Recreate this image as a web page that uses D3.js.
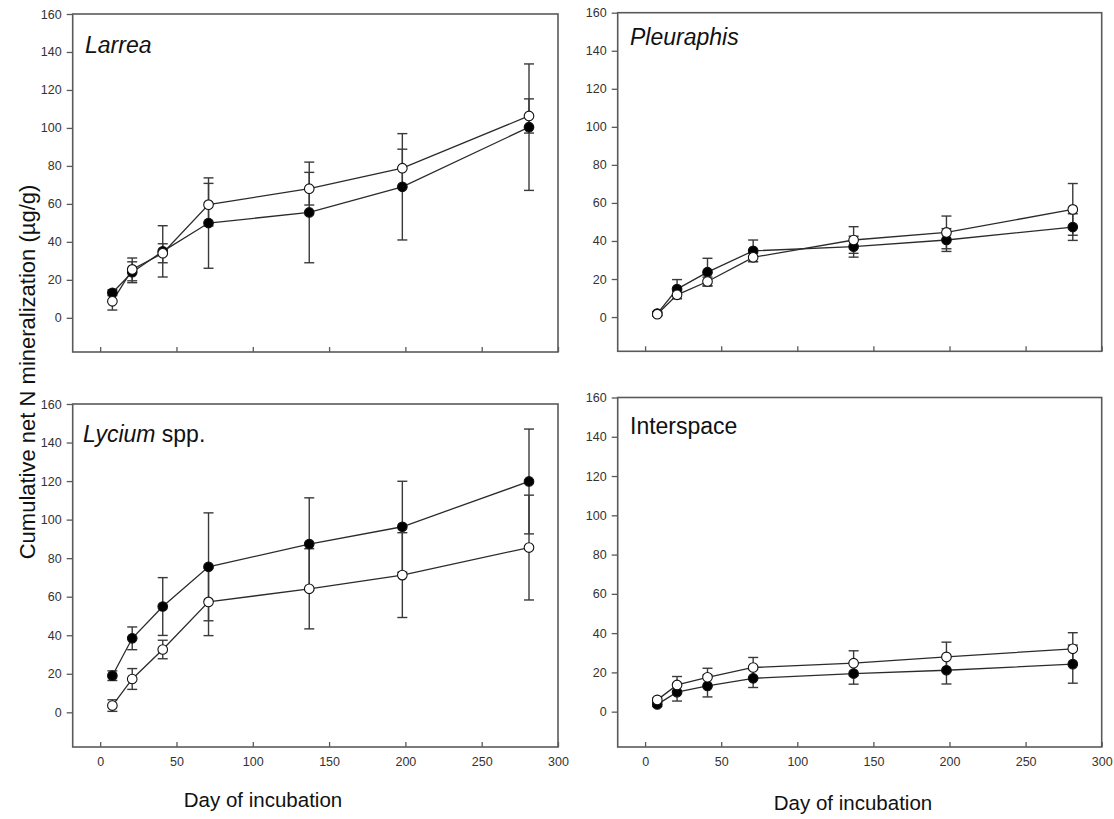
<!DOCTYPE html>
<html>
<head>
<meta charset="utf-8">
<script src="https://cdn.jsdelivr.net/npm/d3@7"></script>
<style>
  body { margin: 0; background: #fff; }
  svg { display: block; font-family: "Liberation Sans", Arial, sans-serif; }
</style>
</head>
<body>
<svg id="chart" width="1114" height="819"></svg>
<script>
// sampling days (x values, shared by all panels)
let days = [8, 21, 41, 71, 137, 198, 281];
let panelNames = ["Larrea", "Pleuraphis", "Lycium", "Interspace"];
let yTicks = [0, 20, 40, 60, 80, 100, 120, 140, 160];
let xTicks = [0, 50, 100, 150, 200, 250, 300];

// filled circles / open circles, mean and error
let larreaFilled = [13.2, 24, 35, 49.9, 55.5, 69, 100.4];
let larreaFilledErr = [1.5, 5.5, 13.5, 23.8, 26.5, 28, 33.3];
let larreaOpen = [8.7, 25.5, 34, 59.6, 68, 78.8, 106.3];
let larreaOpenErr = [4.6, 6, 5, 11.2, 8.6, 10, 9];

let pleuraphisFilled = [1.8, 14.7, 23.6, 34.8, 37, 40.5, 47.3];
let pleuraphisFilledErr = [1, 5, 7.3, 5.7, 5.5, 6, 7];
let pleuraphisOpen = [1.5, 11.7, 18.7, 31.4, 40.5, 44.5, 56.6];
let pleuraphisOpenErr = [1, 2, 2.3, 2.2, 7, 8.6, 13.6];

let lyciumFilled = [19, 38.4, 54.9, 75.5, 87.3, 96.3, 119.8];
let lyciumFilledErr = [2.5, 5.9, 15, 28, 24, 23.6, 27.2];
let lyciumOpen = [3.5, 17.3, 32.6, 57.3, 64.1, 71.2, 85.5];
let lyciumOpenErr = [3, 5.4, 4.8, 17.5, 20.8, 22, 27.2];

let interFilled = [3.7, 9.9, 13.1, 17, 19.4, 21.1, 24.2];
let interFilledErr = [1, 4.5, 5.6, 4.7, 5.4, 7, 9.7];
let interOpen = [6, 13.6, 17.5, 22.5, 24.7, 27.9, 32];
let interOpenErr = [1, 4.3, 4.6, 5.1, 6.3, 7.5, 8.2];

let seriesByPanel = {
    Larrea: [[larreaFilled, larreaFilledErr], [larreaOpen, larreaOpenErr]],
    Pleuraphis: [[pleuraphisFilled, pleuraphisFilledErr], [pleuraphisOpen, pleuraphisOpenErr]],
    Lycium: [[lyciumFilled, lyciumFilledErr], [lyciumOpen, lyciumOpenErr]],
    Interspace: [[interFilled, interFilledErr], [interOpen, interOpenErr]]
};

// frame boxes of the four panels
let boxes = {
    Larrea: {x0: 72.7, x1: 558, y0: 14, y1: 352, labels: false},
    Pleuraphis: {x0: 617.7, x1: 1101.7, y0: 12.7, y1: 351.3, labels: false},
    Lycium: {x0: 72.7, x1: 558, y0: 404, y1: 747, labels: true},
    Interspace: {x0: 617.7, x1: 1101.7, y0: 397.5, y1: 747, labels: true}
};

let ink = "#2b2b2b";
let frameCol = "#5a5a5a";
let svg = d3.select("#chart");

panelNames.forEach(function (name) {
    let b = boxes[name];
    let x = d3.scaleLinear().domain([-18, 300]).range([b.x0, b.x1]);
    let y = d3.scaleLinear().domain([-18, 160]).range([b.y1, b.y0]);
    let g = svg.append("g");

    // y axis, ticks pointing out
    let yAxis = g.append("g")
        .attr("transform", "translate(" + b.x0 + ",0)")
        .call(d3.axisLeft(y).tickValues(yTicks).tickSize(6).tickPadding(5).tickSizeOuter(0));
    yAxis.select(".domain").remove();
    yAxis.selectAll("line").attr("stroke", frameCol).attr("stroke-width", 1.3);
    yAxis.selectAll("text").attr("fill", "#333").style("font-size", "12.5px");

    // x axis, ticks pointing in
    let xAxis = g.append("g")
        .attr("transform", "translate(0," + b.y1 + ")")
        .call(d3.axisBottom(x).tickValues(xTicks).tickSize(-5).tickPadding(10).tickSizeOuter(0));
    xAxis.select(".domain").remove();
    xAxis.selectAll("line").attr("stroke", frameCol).attr("stroke-width", 1.3);
    if (b.labels) {
        xAxis.selectAll("text").attr("fill", "#333").style("font-size", "12.5px");
    } else {
        xAxis.selectAll("text").remove();
    }

    // frame
    g.append("rect")
        .attr("x", b.x0).attr("y", b.y0)
        .attr("width", b.x1 - b.x0).attr("height", b.y1 - b.y0)
        .attr("fill", "none").attr("stroke", frameCol).attr("stroke-width", 1.6);

    let series = seriesByPanel[name];
    let line = d3.line().x((d, i) => x(days[i])).y(d => y(d));

    // error bars behind everything
    series.forEach(function (s) {
        let means = s[0], errs = s[1];
        let eb = g.append("g").attr("stroke", "#3a3a3a").attr("stroke-width", 1.4);
        means.forEach(function (m, i) {
            let cx = x(days[i]);
            eb.append("line").attr("x1", cx).attr("x2", cx)
                .attr("y1", y(m - errs[i])).attr("y2", y(m + errs[i]));
            [m - errs[i], m + errs[i]].forEach(v => {
                eb.append("line").attr("x1", cx - 5).attr("x2", cx + 5)
                    .attr("y1", y(v)).attr("y2", y(v));
            });
        });
    });

    // connecting lines
    series.forEach(function (s) {
        g.append("path").datum(s[0])
            .attr("d", line)
            .attr("fill", "none").attr("stroke", ink).attr("stroke-width", 1.3);
    });

    // markers: first series filled, second open
    series.forEach(function (s, k) {
        g.append("g").selectAll("circle")
            .data(s[0]).enter().append("circle")
            .attr("cx", (d, i) => x(days[i]))
            .attr("cy", d => y(d))
            .attr("r", 4.8)
            .attr("fill", k === 0 ? "#000" : "#fff")
            .attr("stroke", "#111").attr("stroke-width", 1.1);
    });
});

// panel titles
let titleSpec = [
    {x: 85, y: 53, parts: [["Larrea", "italic"]]},
    {x: 630, y: 45, parts: [["Pleuraphis", "italic"]]},
    {x: 83, y: 442, parts: [["Lycium", "italic"], [" spp.", "normal"]]},
    {x: 630, y: 434, parts: [["Interspace", "normal"]]}
];
titleSpec.forEach(function (t) {
    let txt = svg.append("text").attr("x", t.x).attr("y", t.y)
        .attr("fill", "#111").style("font-size", "23px");
    t.parts.forEach(p => txt.append("tspan").style("font-style", p[1]).text(p[0]));
});

// axis titles
svg.append("text")
    .attr("transform", "translate(35,372) rotate(-90)")
    .attr("text-anchor", "middle")
    .attr("fill", "#111").style("font-size", "22px")
    .text("Cumulative net N mineralization (µg/g)");

svg.append("text").attr("x", 263).attr("y", 807)
    .attr("text-anchor", "middle").attr("fill", "#111").style("font-size", "20.5px")
    .text("Day of incubation");
svg.append("text").attr("x", 853).attr("y", 810)
    .attr("text-anchor", "middle").attr("fill", "#111").style("font-size", "20.5px")
    .text("Day of incubation");
</script>
</body>
</html>
